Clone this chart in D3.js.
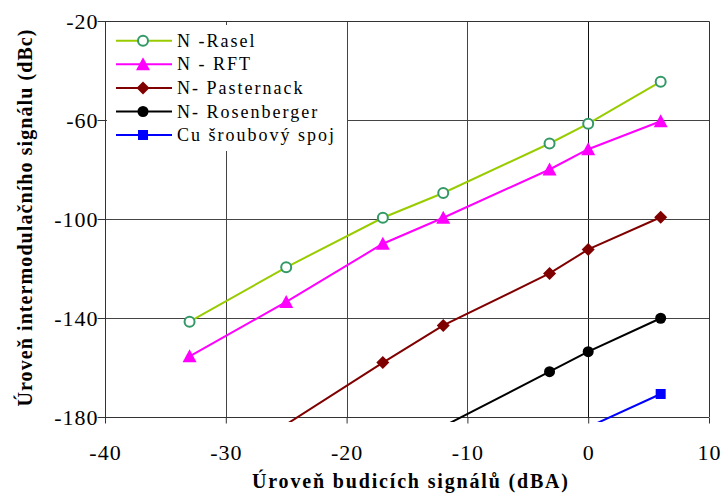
<!DOCTYPE html>
<html>
<head>
<meta charset="utf-8">
<script src="https://cdn.jsdelivr.net/npm/d3@7/dist/d3.min.js"></script>
<style>
  html, body { margin: 0; padding: 0; background: #fff; }
  svg { display: block; }
</style>
</head>
<body>
<svg id="chart" width="724" height="493"></svg>
<script>
// ---- data ----
const xValues = [-33, -25, -17, -12, -3.2, 0, 6];
const seriesNames = ["N -Rasel", "N - RFT", "N- Pasternack", "N- Rosenberger", "Cu šroubový spoj"];
const rasel       = [-141.5, -119.5, -99.5, -89.5, -69.5, -61.5, -44.5];
const rft         = [-155.5, -133.5, -110, -99.5, -80, -71.8, -60.5];
const pasternack  = [null, -183, -158, -143, -122, -112.3, -99.3];
const rosenberger = [null, null, null, -183.8, -161.7, -153.6, -140.1];
const cu          = [null, null, null, null, null, -184.1, -170.7];
const xTicks = [-40, -30, -20, -10, 0, 10];
const yTicks = [-20, -60, -100, -140, -180];
const xTitle = "Úroveň budicích signálů (dBA)";
const yTitle = "Úroveň intermodulačního signálu (dBc)";

const FONT = "Liberation Serif";

// ---- layout ----
const svg = d3.select("#chart");
const L = 105, R = 709, T = 21, B = 417;
const x = d3.scaleLinear().domain([-40, 10]).range([L, R]);
const y = d3.scaleLinear().domain([-180, -20]).range([B, T]);

const styles = [
  { line: "#99CC00", marker: "circleOpen", mstroke: "#339966", mfill: "#fff" },
  { line: "#FF00FF", marker: "triangle", mstroke: "#FF00FF", mfill: "#FF00FF" },
  { line: "#800000", marker: "diamond", mstroke: "#800000", mfill: "#800000" },
  { line: "#000000", marker: "circle", mstroke: "#000000", mfill: "#000000" },
  { line: "#0000FF", marker: "square", mstroke: "#0000FF", mfill: "#0000FF" }
];
const allSeries = [rasel, rft, pasternack, rosenberger, cu];

// clip
svg.append("defs").append("clipPath").attr("id", "clip")
  .append("rect").attr("x", L).attr("y", T).attr("width", R - L).attr("height", B - T + 5);

// gridlines
const grid = svg.append("g");
grid.selectAll("line.gx").data(xTicks.slice(1, -1)).enter().append("line")
  .attr("x1", d => Math.round(x(d)) + 0.5).attr("x2", d => Math.round(x(d)) + 0.5)
  .attr("y1", T).attr("y2", B)
  .attr("stroke", d => d === 0 ? "#111" : "#444").attr("stroke-width", 1);
grid.selectAll("line.gy").data(yTicks.slice(1, -1)).enter().append("line")
  .attr("x1", L).attr("x2", R)
  .attr("y1", d => Math.round(y(d)) + 0.5).attr("y2", d => Math.round(y(d)) + 0.5)
  .attr("stroke", "#444").attr("stroke-width", 1);
// plot border top/right
svg.append("path")
  .attr("d", `M${L},${T + 0.5}H${R + 0.5}V${B}`)
  .attr("fill", "none").attr("stroke", "#333").attr("stroke-width", 1);

// legend background
svg.append("rect").attr("x", 107).attr("y", 25).attr("width", 240).attr("height", 126).attr("fill", "#fff");

// axes
const fmt = d => String(d);
const yAxis = d3.axisLeft(y).tickValues(yTicks).tickFormat(fmt).tickSize(8).tickPadding(8).tickSizeOuter(0);
const gy = svg.append("g").attr("transform", `translate(${L + 0.5},0)`).call(yAxis);
const xAxis = d3.axisBottom(x).tickValues(xTicks).tickFormat(fmt).tickSize(6).tickPadding(20).tickSizeOuter(0);
const gx = svg.append("g").attr("transform", `translate(0,${B + 0.5})`).call(xAxis);
[gx, gy].forEach(g => {
  g.attr("font-family", FONT).attr("font-size", 22);
  g.select(".domain").attr("stroke", "#333");
  g.selectAll(".tick line").attr("stroke", "#333");
  g.selectAll(".tick text").attr("font-family", FONT).attr("font-size", 22)
    .style("letter-spacing", "1px").attr("fill", "#000");
});
gy.selectAll(".tick text").attr("dy", "0.34em").attr("x", -7);
gx.selectAll(".tick text").attr("dy", "0.71em").attr("y", 27);
gy.select(".domain").attr("d", `M0,${T}V${B}`);
gx.select(".domain").attr("d", `M${L},0H${R}`);

// series lines
const plot = svg.append("g").attr("clip-path", "url(#clip)");
allSeries.forEach((vals, i) => {
  const pts = xValues.map((xv, j) => [xv, vals[j]]).filter(p => p[1] !== null);
  plot.append("path")
    .attr("d", d3.line().x(p => x(p[0])).y(p => y(p[1]))(pts))
    .attr("fill", "none").attr("stroke", styles[i].line).attr("stroke-width", 2);
});

function drawMarker(g, type, cx, cy, st) {
  if (type === "circleOpen") {
    g.append("circle").attr("cx", cx).attr("cy", cy).attr("r", 5)
      .attr("fill", st.mfill).attr("stroke", st.mstroke).attr("stroke-width", 2);
  } else if (type === "circle") {
    g.append("circle").attr("cx", cx).attr("cy", cy).attr("r", 5.5).attr("fill", st.mfill);
  } else if (type === "triangle") {
    g.append("path").attr("d", `M${cx},${cy - 7}L${cx + 7},${cy + 6}L${cx - 7},${cy + 6}Z`).attr("fill", st.mfill);
  } else if (type === "diamond") {
    g.append("path").attr("d", `M${cx},${cy - 6.5}L${cx + 6.5},${cy}L${cx},${cy + 6.5}L${cx - 6.5},${cy}Z`).attr("fill", st.mfill);
  } else if (type === "square") {
    g.append("rect").attr("x", cx - 5).attr("y", cy - 5).attr("width", 10).attr("height", 10).attr("fill", st.mfill);
  }
}

const mg = svg.append("g");
allSeries.forEach((vals, i) => {
  xValues.forEach((xv, j) => {
    const v = vals[j];
    if (v === null || v < -180) return;
    drawMarker(mg, styles[i].marker, x(xv), y(v), styles[i]);
  });
});

// legend
const leg = svg.append("g");
const legY = [40.7, 64.3, 88, 111.5, 135];
seriesNames.forEach((name, i) => {
  const ly = legY[i];
  leg.append("line").attr("x1", 116).attr("x2", 172).attr("y1", ly).attr("y2", ly)
    .attr("stroke", styles[i].line).attr("stroke-width", 2);
  drawMarker(leg, styles[i].marker, 143, ly, styles[i]);
  leg.append("text").attr("x", 177).attr("y", ly + 6)
    .attr("font-family", FONT).attr("font-size", 18).style("letter-spacing", "2px")
    .attr("fill", "#000").text(name);
});

// axis titles
svg.append("text").attr("x", 410).attr("y", 488).attr("text-anchor", "middle")
  .attr("font-family", FONT).attr("font-size", 20).attr("font-weight", "bold")
  .attr("textLength", 316).attr("lengthAdjust", "spacing").text(xTitle);
svg.append("text").attr("transform", "translate(32,218) rotate(-90)").attr("text-anchor", "middle")
  .attr("font-family", FONT).attr("font-size", 20).attr("font-weight", "bold")
  .attr("textLength", 377).attr("lengthAdjust", "spacing").text(yTitle);
</script>
</body>
</html>
